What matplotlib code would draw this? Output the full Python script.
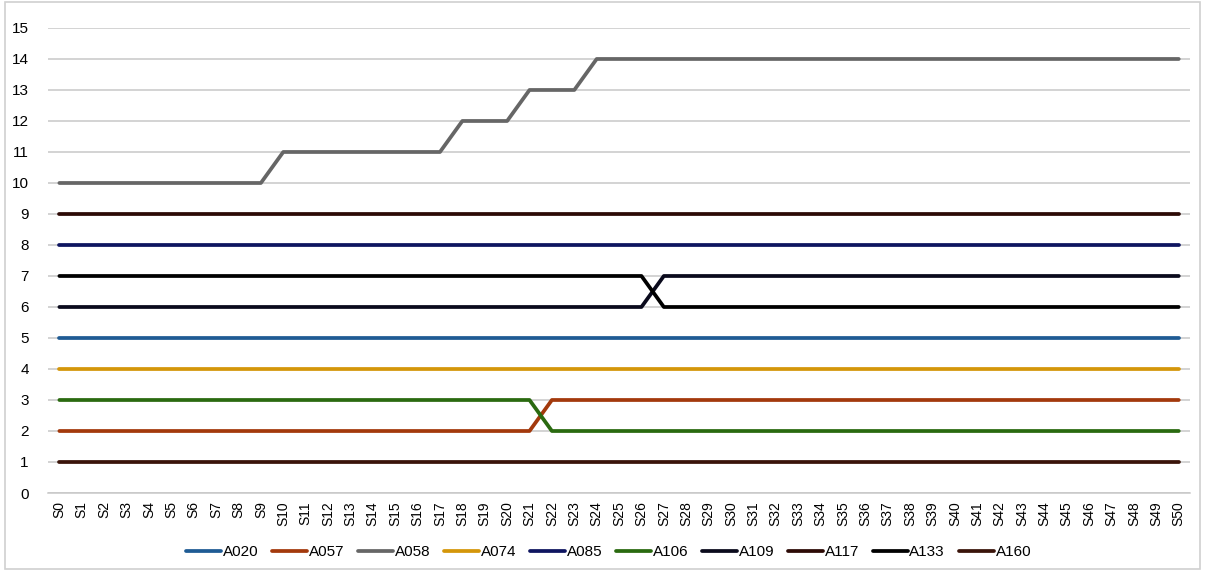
import matplotlib
matplotlib.use("Agg")
import matplotlib.pyplot as plt
import numpy as np

plt.rcParams['font.family'] = ['Liberation Sans Narrow', 'Liberation Sans', 'DejaVu Sans']

categories = [f"S{i}" for i in range(51)]

# series values per stage (S0..S50)
a020 = [5] * 51
a057 = [2] * 22 + [3] * 29
a058 = [10] * 10 + [11] * 8 + [12] * 3 + [13] * 3 + [14] * 27
a074 = [4] * 51
a085 = [8] * 51
a106 = [3] * 22 + [2] * 29
a109 = [6] * 27 + [7] * 24
a117 = [9] * 51
a133 = [7] * 27 + [6] * 24
a160 = [1] * 51

series = [
    ("A020", a020, "#1f5b94"),
    ("A057", a057, "#a3390c"),
    ("A058", a058, "#666666"),
    ("A074", a074, "#d4960a"),
    ("A085", a085, "#0e1560"),
    ("A106", a106, "#2a6a10"),
    ("A109", a109, "#0a0a1c"),
    ("A117", a117, "#2c0a05"),
    ("A133", a133, "#000000"),
    ("A160", a160, "#3a140a"),
]

fig = plt.figure(figsize=(12.05, 5.71), dpi=100)
ax = fig.add_axes([0.040, 0.1366, 0.9475, 0.8144])

x = np.arange(len(categories))
for name, vals, col in series:
    ax.plot(x, vals, color=col, lw=2.7, label=name, solid_capstyle='round', zorder=3)

ax.set_xlim(-0.5, len(categories) - 0.5)
ax.set_ylim(0, 15)
ax.set_yticks(range(0, 16))
ax.set_xticks(x)
ax.set_xticklabels(categories, rotation=90, fontsize=10)
ax.tick_params(axis='y', length=0, labelsize=11, pad=14)
ax.tick_params(axis='x', length=0, pad=6)
ax.grid(axis='y', color='#c8c8c8', lw=1.1, zorder=0)
for s in ['top', 'right', 'left']:
    ax.spines[s].set_visible(False)
ax.spines['bottom'].set_color('#c8c8c8')
ax.spines['bottom'].set_linewidth(1.1)

fig.legend(loc='center', bbox_to_anchor=(0.505, 0.033), ncol=10, frameon=False,
           fontsize=11, handlelength=2.3, handletextpad=0.1, columnspacing=0.9)

border = plt.Rectangle((0.004, 0.004), 0.992, 0.992, transform=fig.transFigure,
                       fill=False, edgecolor='#d0d0d0', lw=1.2)
fig.patches.append(border)

fig.savefig("out.png", dpi=100)
